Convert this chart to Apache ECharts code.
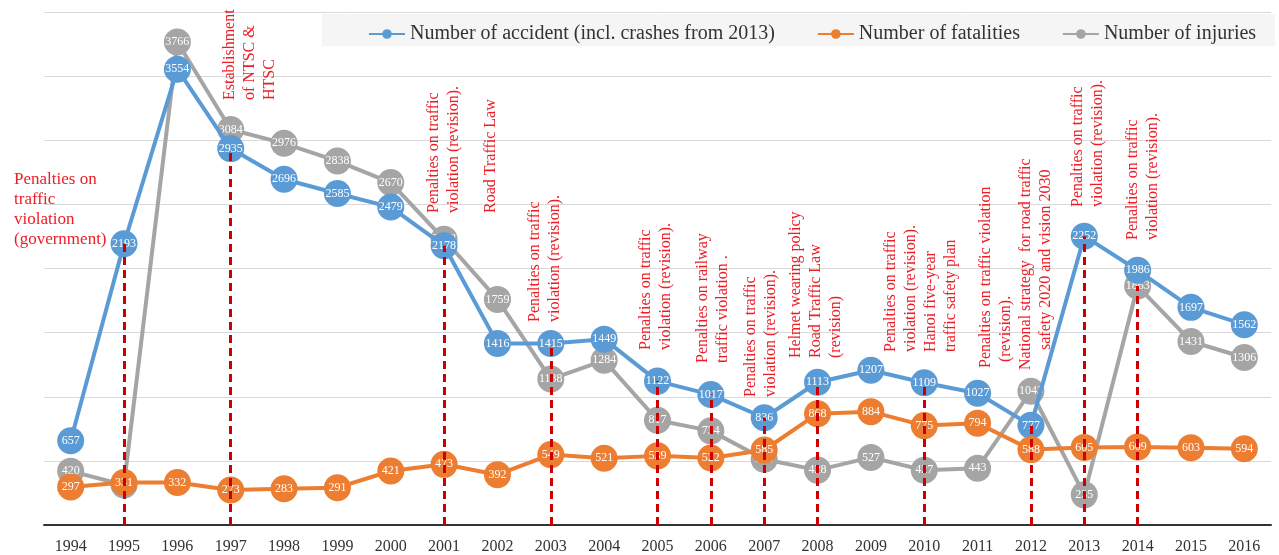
<!DOCTYPE html>
<html>
<head>
<meta charset="utf-8">
<script src="https://cdn.jsdelivr.net/npm/echarts@6/dist/echarts.min.js"></script>
<style>
html,body{margin:0;padding:0;background:#fff;}
#main{width:1279px;height:555px;}
</style>
</head>
<body>
<div id="main"></div>
<script>
const years = ['1994','1995','1996','1997','1998','1999','2000','2001','2002','2003','2004','2005','2006','2007','2008','2009','2010','2011','2012','2013','2014','2015','2016'];
const accidents = [657,2193,3554,2935,2696,2585,2479,2178,1416,1415,1449,1122,1017,836,1113,1207,1109,1027,777,2252,1986,1697,1562];
const fatalities = [297,331,332,273,283,291,421,473,392,549,521,539,522,585,868,884,775,794,588,605,609,603,594];
const injuries = [420,312,3766,3084,2976,2838,2670,2228,1759,1138,1284,817,734,513,428,527,427,443,1043,235,1863,1431,1306];
const seriesNames = ['Number of accident (incl. crashes from 2013)','Number of fatalities','Number of injuries'];
const eventYears = ['1995','1997','2001','2003','2005','2006','2007','2008','2010','2012','2013','2014'];
const eventRef = ['acc','acc','acc','acc','acc','acc','acc','acc','acc','acc','acc','inj'];

const FONT = '"Liberation Serif", "DejaVu Serif", serif';
const RED = '#ee1c25';

const chart = echarts.init(document.getElementById('main'), null, {renderer:'canvas'});

const dropLines = eventYears.map((y, k) => {
  const i = years.indexOf(y);
  const top = eventRef[k] === 'inj' ? injuries[i] : accidents[i];
  return [{coord:[y, 0]}, {coord:[y, top]}];
});

function mkSeries(name, data, color, z) {
  return {
    name, type:'line', data, z,
    symbol:'circle', symbolSize:27,
    lineStyle:{color, width:4},
    itemStyle:{color},
    label:{show:true, position:'inside', color:'#fff', fontSize:12, fontFamily:FONT},
    emphasis:{disabled:true},
    animation:false
  };
}

// annotation texts (rotated reading bottom-to-top)
const notes = [
  {x:220, y:100, t:'Establishment\nof NTSC &\nHTSC'},
  {x:424, y:213, t:'Penalties on traffic\nviolation (revision).'},
  {x:481, y:213, t:'Road Traffic Law'},
  {x:525, y:322, t:'Penalties on traffic\nviolation (revision).'},
  {x:636, y:350, t:'Penalties on traffic\nviolation (revision).'},
  {x:693, y:363, t:'Penalties on railway\ntraffic violation .'},
  {x:741, y:397, t:'Penalties on traffic\nviolation (revision).'},
  {x:786, y:358, t:'Helmet wearing policy\nRoad Traffic Law\n(revision)'},
  {x:881, y:352, t:'Penalties on traffic\nviolation (revision).\nHanoi five-year\ntraffic safety plan'},
  {x:976, y:368, t:'Penalties on traffic violation'},
  {x:996, y:362, t:'(revision).'},
  {x:1016, y:370, t:'National strategy  for road traffic'},
  {x:1036, y:350, t:'safety 2020 and vision 2030'},
  {x:1068, y:207, t:'Penalties on traffic\nviolation (revision).'},
  {x:1123, y:240, t:'Penalties on traffic\nviolation (revision).'}
];
const graphics = [
  {type:'rect', z:-1, shape:{x:322, y:14, width:953, height:32}, style:{fill:'#f5f5f5'}},
  {type:'text', z:50, x:14, y:170, style:{text:'Penalties on\ntraffic\nviolation\n(government)', fill:RED, font:'17px ' + FONT, lineHeight:20, align:'left', verticalAlign:'top'}}
];
notes.forEach(n => graphics.push({
  type:'text', z:50, x:n.x, y:n.y, rotation:Math.PI/2,
  style:{text:n.t, fill:RED, font:'16px ' + FONT, lineHeight:20, align:'left', verticalAlign:'top'}
}));

chart.setOption({
  animation:false,
  backgroundColor:'#fff',
  grid:{left:44, right:8, top:12, bottom:29, containLabel:false},
  legend:{
    top:19, left:363, itemGap:42, itemWidth:36, itemHeight:12,
    textStyle:{fontFamily:FONT, fontSize:20, color:'#333'},
    data:seriesNames
  },
  xAxis:{
    type:'category', data:years, boundaryGap:true,
    axisLine:{lineStyle:{color:'#333', width:2}},
    axisTick:{show:false},
    axisLabel:{fontFamily:FONT, fontSize:16, color:'#333', margin:14}
  },
  yAxis:{
    type:'value', min:0, max:4000, interval:500,
    axisLine:{show:false}, axisTick:{show:false}, axisLabel:{show:false},
    splitLine:{lineStyle:{color:'#d9d9d9', width:1}}
  },
  graphic:graphics,
  series:[
    mkSeries(seriesNames[0], accidents, '#5b9bd5', 3),
    mkSeries(seriesNames[1], fatalities, '#ed7d31', 4),
    mkSeries(seriesNames[2], injuries, '#a5a5a5', 2),
    {
      type:'line', data:[], z:10, silent:true,
      markLine:{
        silent:true, symbol:['none','none'], animation:false,
        label:{show:false},
        lineStyle:{color:'#cc0000', width:3, type:[8,5]},
        data:dropLines
      }
    }
  ]
});
</script>
</body>
</html>
